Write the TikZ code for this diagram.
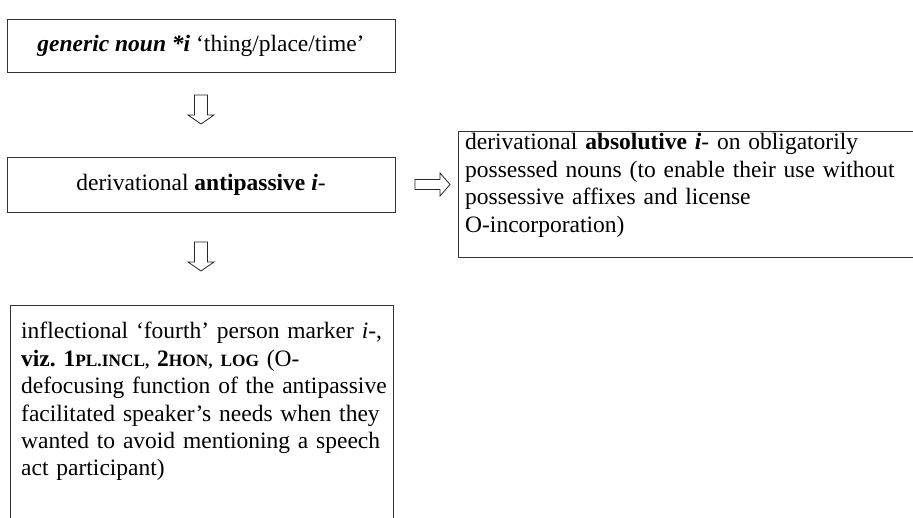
\documentclass[tikz,border=0pt]{standalone}
\usepackage{fontspec}
\setmainfont{Liberation Serif}
\newcommand{\fsc}[1]{{\fontsize{17.3}{20}\selectfont\bfseries #1}}
\begin{document}
\begin{tikzpicture}[x=1pt,y=-1pt,
  frame/.style={draw=black!80, line width=0.9pt},
  boxnode/.style={frame, minimum width=388pt, inner sep=0pt, align=center},
  txt/.style={inner sep=0pt, align=left, anchor=base west, text width=520pt},
  blockarrow/.style={draw=black!85, line width=0.8pt, fill=white, line join=miter}]
\useasboundingbox (0,0) rectangle (913,518);
\fontsize{23.5}{27.4}\selectfont
\frenchspacing
\hyphenpenalty=10000
% top boxes
\node[boxnode, minimum height=53pt] (b1) at (201,45.5)
  {\textbf{\textit{generic noun *i}} ‘thing/place/time’};
\node[boxnode, minimum height=55pt] (b2) at (201,184.5)
  {derivational \textbf{antipassive} \textbf{\textit{i}}-};
% right box (open on the right)
\coordinate (r1) at (913,131);
\coordinate (r2) at (458,131);
\coordinate (r3) at (458,257);
\coordinate (r4) at (913,257);
\draw[frame] (r1) -- (r2) -- (r3) -- (r4);
\node[txt] (t3) at (465,150)
  {derivational \textbf{absolutive} \textbf{\textit{i}}- on obligatorily\\
   possessed nouns (to enable their use without\\
   possessive affixes and license\\
   O-incorporation)};
% bottom box (open at the bottom)
\coordinate (q1) at (10,518);
\coordinate (q2) at (10,305);
\coordinate (q3) at (393,305);
\coordinate (q4) at (393,518);
\draw[frame] (q1) -- (q2) -- (q3) -- (q4);
\node[txt] (t4) at (21,339)
  {inflectional ‘fourth’ person marker \textit{i}-,\\
   \textbf{viz.} \textbf{1}\fsc{PL.INCL,} \textbf{2}\fsc{HON,} \fsc{LOG} (O-\\
   defocusing function of the antipassive\\
   facilitated speaker’s needs when they\\
   wanted to avoid mentioning a speech\\
   act participant)};
% block arrows
\coordinate (a1) at (201,95);
\draw[blockarrow] (a1) ++(-6.5,0) -- ++(0,20) -- ++(-6.5,0) -- ++(13,9) -- ++(13,-9) -- ++(-6.5,0) -- ++(0,-20) -- cycle;
\coordinate (a2) at (201,242);
\draw[blockarrow] (a2) ++(-6.5,0) -- ++(0,20) -- ++(-6.5,0) -- ++(13,9) -- ++(13,-9) -- ++(-6.5,0) -- ++(0,-20) -- cycle;
\coordinate (a3) at (415,184.5);
\draw[blockarrow] (a3) ++(0,-5) -- ++(25,0) -- ++(0,-6.5) -- ++(10,11.5) -- ++(-10,11.5) -- ++(0,-6.5) -- ++(-25,0) -- cycle;
\end{tikzpicture}
\end{document}
